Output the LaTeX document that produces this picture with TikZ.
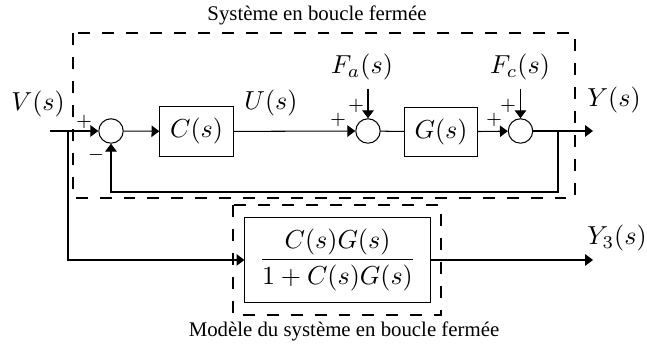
\documentclass[tikz,border=0pt]{standalone}
\usepackage{fontspec}
\setmainfont{Liberation Serif}
\usepackage{amsmath}
\usetikzlibrary{arrows.meta,positioning}

\begin{document}
\begin{tikzpicture}[x=0.0135cm,y=-0.0135cm,
    bloc/.style={draw,minimum width=0.99cm,minimum height=0.67cm,inner sep=1pt},
    somme/.style={draw,circle,minimum size=0.33cm,inner sep=0pt},
    fleche/.style={-{Triangle[length=3pt,width=4.4pt]}},
    cadre/.style={dash pattern=on 4.6pt off 4.6pt},
    signe/.style={font=\scriptsize,inner sep=0pt}]
  \useasboundingbox (0,0) rectangle (647,347);

  % boucle fermee
  \node[somme] (s1) at (111,131) {};
  \node[bloc] (C) at (196.5,131.5) {$C(s)$};
  \node[somme] (s2) at (368,131) {};
  \node[bloc] (G) at (441,132) {$G(s)$};
  \node[somme] (s3) at (520.5,131) {};

  \coordinate (in) at (50,131);
  \coordinate (br) at (68,131);
  \coordinate (br2) at (558,131);
  \coordinate (out) at (593,131);
  \coordinate (fa) at (368,89);
  \coordinate (fc) at (520.5,89);

  \node (V) at (38,104) {$V(s)$};
  \node (U) at (271,103) {$U(s)$};
  \node (Fa) at (362,67) {$F_a(s)$};
  \node (Fc) at (520,67) {$F_c(s)$};
  \node (Y) at (614,100) {$Y(s)$};

  \draw[fleche] (in) -- (s1);
  \draw[fleche] (s1) -- (C);
  \draw[fleche] (C) -- (s2);
  \draw (s2) -- (G);
  \draw[fleche] (G) -- (s3);
  \draw[fleche] (s3) -- (out);
  \draw[fleche] (fa) -- (s2);
  \draw[fleche] (fc) -- (s3);
  \draw[fleche] (br2) |- (558,192) -| (s1);

  \foreach \x/\y/\s in {84/122/+, 96/155/-, 338/120/+, 356/106/+, 494/120/+, 508/106/+}
    \node[signe] at (\x,\y) {$\s$};

  % modele
  \node[draw,minimum width=2.5cm,minimum height=1.16cm] (M) at (337.5,260)
    {$\dfrac{C(s)G(s)}{1+C(s)G(s)}$};
  \coordinate (out3) at (593,260);
  \node (Y3) at (617,238) {$Y_3(s)$};
  \draw[fleche] (br) |- (M);
  \draw[fleche] (M) -- (out3);

  % cadres
  \draw[cadre] (73,33) rectangle (575,198);
  \draw[cadre] (233,205) rectangle (441,315);
  \node[font=\footnotesize] (t1) at (317,15) {Système en boucle fermée};
  \node[font=\footnotesize] (t2) at (344,331) {Modèle du système en boucle fermée};
\end{tikzpicture}
\end{document}
